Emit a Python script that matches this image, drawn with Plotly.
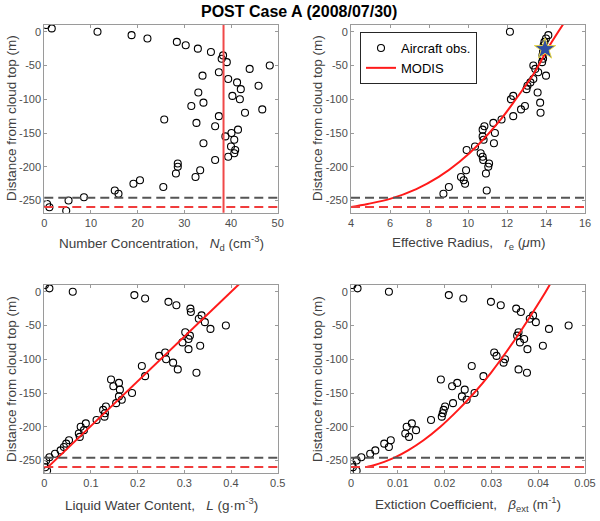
import plotly.graph_objects as go

# depth below cloud top (m), one sample every 5 m
depth = [10, 5, 0, -5, -10, -15, -20, -25, -30, -35, -40, -45, -50, -55,
         -60, -65, -70, -75, -80, -85, -90, -95, -100, -105, -110, -115,
         -120, -125, -130, -135, -140, -145, -150, -155, -160, -165, -170,
         -175, -180, -185, -190, -195, -200, -205, -210, -215, -220, -225,
         -230, -235, -240, -245, -250, -255, -260, -265]

# aircraft observations
nd_obs = [0.4, 1.6, 11.4, 18.7, 22.1, 28.4, 30.3, 32.9, 35.7, 38.3, 38.0, 39.1,
          48.3, 44.0, 37.4, 33.9, 39.4, 41.3, 45.9, 42.1, 33.0, 40.3, 41.9, 34.1,
          31.5, 46.7, 43.0, 37.4, 25.7, 32.6, 36.6, 41.5, 40.1, 38.8, 40.7, 34.1,
          40.0, 40.9, 40.7, 39.4, 36.6, 28.6, 28.6, 33.4, 28.2, 32.4, 20.5, 19.1,
          25.5, 15.1, 15.9, 8.5, 5.2, 0.6, 1.1, 4.7]
re_obs = [None, None, 12.15, 14.12, 14.0, 13.92, 13.88, 13.85, 13.85, 13.82,
          13.85, 13.8, 13.35, 13.45, 13.6, 14.0, 13.35, 13.2, 13.05, 13.0, 13.57,
          12.32, 12.2, 13.7, 12.92, 12.72, 13.72, 12.32, 11.72, 11.3, 10.84,
          10.75, 11.38, 10.75, 10.8, 11.33, 10.36, 9.93, 10.65, 10.75, 10.78,
          11.08, 11.04, 9.9, 10.92, 9.64, 9.78, 9.85, 9.02, 10.96, 8.74,
          None, None, None, None, None]
lwc_obs = [0.0014, 0.011, 0.061, 0.193, 0.216, 0.266, 0.283, 0.313, 0.314, 0.337,
           0.331, 0.344, 0.389, 0.356, 0.302, 0.312, 0.309, 0.296, 0.334, 0.309,
           0.259, 0.246, 0.261, 0.276, 0.209, 0.286, 0.326, 0.216, 0.143, 0.160,
           0.148, 0.162, 0.188, 0.160, 0.166, 0.154, 0.132, 0.126, 0.130, 0.129,
           0.112, 0.089, 0.078, 0.085, 0.074, 0.076, 0.053, 0.047, 0.042, 0.035,
           0.023, 0.011, 0.004, 0.000, 0.002, 0.006]
beta_obs = [0.0003, 0.0014, 0.0081, 0.0209, 0.0240, 0.0299, 0.0320, 0.0353, 0.0363,
            0.0389, 0.0382, 0.0395, 0.0465, 0.0423, 0.0358, 0.0355, 0.0370, 0.0361,
            0.0410, 0.0377, 0.0306, 0.0311, 0.0329, 0.0326, 0.0258, 0.0358, 0.0376,
            0.0283, 0.0192, 0.0227, 0.0216, 0.0243, 0.0264, 0.0237, 0.0247, 0.0218,
            0.0201, 0.0198, 0.0196, 0.0194, 0.0171, 0.0130, 0.0119, 0.0139, 0.0116,
            0.0124, 0.0085, 0.0071, 0.0081, 0.0052, 0.0041, 0.0022, 0.0012, 0.0002,
            0.0004, 0.0012]

# MODIS retrieval / adiabatic profiles
nd_modis = 38.4
re_modis = 13.95
re_modis_depth = -25.6
re_curve_depth = [-259.5, -255, -247.5, -233, -215, -193, -165, -131, -100, -60, -22, 12]
re_curve = [4.0, 4.85, 6.0, 7.35, 8.5, 9.55, 10.6, 11.65, 12.45, 13.42, 14.15, 14.9]
lwc_curve_depth = [-260.5, 12]
lwc_curve = [0.0067, 0.4185]
beta_curve_depth = [-259.3, -257, -252, -245, -235, -220, -200, -175, -150, -120,
                    -90, -60, -30, 0, 12]
beta_curve = [0.0035, 0.0049, 0.0071, 0.0095, 0.0122, 0.0155, 0.0191, 0.0229,
              0.0263, 0.0299, 0.0331, 0.0361, 0.0389, 0.0416, 0.0426]

base_aircraft = -246
base_modis = -259.5

y_ticks = [0, -50, -100, -150, -200, -250]
y_tick_text = ["0", "-50", "-100", "-150", "-200", "-250"]

panels = [
    # (x obs, x curve, curve depth, x range, x ticks, axis suffix)
    (nd_obs, None, None, [0, 50], [0, 10, 20, 30, 40, 50], ""),
    (re_obs, re_curve, re_curve_depth, [4, 16], [4, 6, 8, 10, 12, 14, 16], "2"),
    (lwc_obs, lwc_curve, lwc_curve_depth, [0, 0.5], [0, 0.1, 0.2, 0.3, 0.4, 0.5], "3"),
    (beta_obs, beta_curve, beta_curve_depth, [0, 0.05], [0, 0.01, 0.02, 0.03, 0.04, 0.05], "4"),
]

fig = go.Figure()

for xs, xc, dc, xr, xt, s in panels:
    fig.add_trace(go.Scatter(
        x=xs, y=depth, mode="markers", xaxis="x" + s, yaxis="y" + s,
        name="Aircraft obs.", showlegend=(s == "2"),
        marker=dict(symbol="circle-open", size=7, color="black", line=dict(width=1.1)),
    ))
    if xc is not None:
        fig.add_trace(go.Scatter(
            x=xc, y=dc, mode="lines", xaxis="x" + s, yaxis="y" + s,
            name="MODIS", showlegend=(s == "2"),
            line=dict(color="#ff1a1a", width=2, shape="spline"),
        ))
    for yb, col in [(base_aircraft, "#555555"), (base_modis, "#f03c3c")]:
        fig.add_shape(type="line", xref="x" + s + " domain", yref="y" + s,
                      x0=0, x1=1, y0=yb, y1=yb,
                      line=dict(color=col, width=2, dash="9px,5px"))

fig.add_shape(type="line", xref="x", yref="y domain", x0=nd_modis, x1=nd_modis,
              y0=0, y1=1, line=dict(color="#f04848", width=2))

fig.add_trace(go.Scatter(
    x=[re_modis], y=[re_modis_depth], mode="markers", xaxis="x2", yaxis="y2",
    showlegend=False,
    marker=dict(symbol="star", size=16, color="#2f4ea3", line=dict(color="#e8d84a", width=1)),
))

font_fam = "Liberation Sans, Arial, sans-serif"
axis_common = dict(
    showline=True, linecolor="#9a9a9a", linewidth=1, mirror="ticks",
    ticks="inside", ticklen=3, tickcolor="#9a9a9a",
    showgrid=False, zeroline=False,
    tickfont=dict(family=font_fam, size=11, color="#4d4d4d"),
)

x_dom = {"": [0.0738, 0.4628], "2": [0.585, 0.975], "3": [0.0738, 0.4628], "4": [0.585, 0.975]}
y_dom = {"": [0.5917, 0.952], "2": [0.5917, 0.952], "3": [0.0927, 0.453], "4": [0.0927, 0.453]}

layout_axes = {}
for xs, xc, dc, xr, xt, s in panels:
    layout_axes["xaxis" + s] = dict(axis_common, domain=x_dom[s], range=xr, tickvals=xt,
                                    anchor="y" + s)
    layout_axes["yaxis" + s] = dict(axis_common, domain=y_dom[s], range=[-268, 10],
                                    tickvals=y_ticks, ticktext=y_tick_text, anchor="x" + s)

gap = "\u00a0\u00a0 "
label_font = dict(family=font_fam, size=13.5, color="#404040")
x_titles = [
    ("Number Concentration," + gap + "<i>N</i><sub>d</sub> (cm<sup>-3</sup>)", 161, 243),
    ("Effective Radius," + gap + "<i>r</i><sub>e</sub> (<i>μ</i>m)", 468, 243),
    ("Liquid Water Content," + gap + "<i>L</i> (g·m<sup>-3</sup>)", 161, 504),
    ("Extiction Coefficient," + gap + "<i>β</i><sub>ext</sub> (m<sup>-1</sup>)", 468, 504),
]
annotations = []
for txt, px, py in x_titles:
    annotations.append(dict(text=txt, x=px / 600, y=1 - py / 521, xref="paper", yref="paper",
                            showarrow=False, font=label_font, xanchor="center", yanchor="middle"))
for px, py in [(11, 118), (317, 118), (11, 379), (317, 379)]:
    annotations.append(dict(text="Distance from cloud top (m)", x=px / 600, y=1 - py / 521,
                            xref="paper", yref="paper", showarrow=False, textangle=-90,
                            font=label_font, xanchor="center", yanchor="middle"))
annotations.append(dict(text="<b>POST Case A (2008/07/30)</b>", x=299 / 600, y=1 - 12 / 521,
                        xref="paper", yref="paper", showarrow=False,
                        font=dict(family=font_fam, size=16, color="black"),
                        xanchor="center", yanchor="middle"))

fig.update_layout(
    template="none",
    width=600, height=521,
    margin=dict(l=0, r=0, t=0, b=0),
    paper_bgcolor="white", plot_bgcolor="white",
    annotations=annotations,
    legend=dict(x=360 / 600, y=1 - 32 / 521, xanchor="left", yanchor="top",
                bgcolor="white", bordercolor="#262626", borderwidth=1,
                font=dict(family=font_fam, size=13, color="black"),
                tracegroupgap=0, itemwidth=30),
    **layout_axes,
)

# the page keeps the browser's default body margin otherwise
fig.write_html("out.html", config={"displayModeBar": False},
               post_script="document.body.style.margin = '0';")
